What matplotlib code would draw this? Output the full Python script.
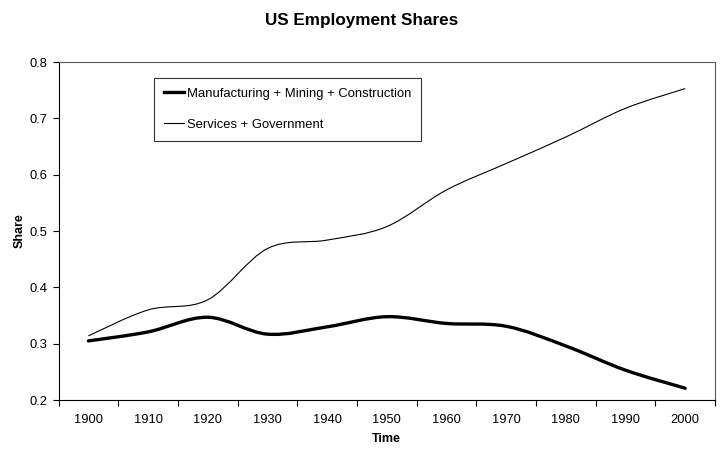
import numpy as np
import matplotlib
matplotlib.use("Agg")
import matplotlib.pyplot as plt
from matplotlib.path import Path
from matplotlib.patches import PathPatch
from matplotlib.lines import Line2D

plt.rcParams['font.family'] = ['Liberation Sans', 'DejaVu Sans']

# data
years = ["1900", "1910", "1920", "1930", "1940", "1950",
         "1960", "1970", "1980", "1990", "2000"]
manufacturing = [0.305, 0.321, 0.347, 0.317, 0.330, 0.348,
                 0.336, 0.331, 0.296, 0.253, 0.221]
services = [0.314, 0.360, 0.378, 0.469, 0.484, 0.508,
            0.573, 0.620, 0.667, 0.718, 0.753]


def smooth_path(xs, ys):
    # Excel-style smoothed line (Catmull-Rom as cubic Bezier)
    pts = np.column_stack([xs, ys]).astype(float)
    ext = np.vstack([pts[0], pts, pts[-1]])
    verts = [pts[0]]
    codes = [Path.MOVETO]
    for i in range(len(pts) - 1):
        p0, p1, p2, p3 = ext[i], ext[i + 1], ext[i + 2], ext[i + 3]
        verts += [p1 + (p2 - p0) / 6, p2 - (p3 - p1) / 6, p2]
        codes += [Path.CURVE4] * 3
    return Path(verts, codes)


fig = plt.figure(figsize=(7.23, 4.5), dpi=100)
ax = fig.add_axes([0.081, 0.111, 0.908, 0.751])

x = np.arange(len(years))
ax.add_patch(PathPatch(smooth_path(x, manufacturing), fill=False,
                       edgecolor="black", linewidth=2.4, capstyle="round"))
ax.add_patch(PathPatch(smooth_path(x, services), fill=False,
                       edgecolor="black", linewidth=0.8))

ax.set_xlim(-0.5, len(years) - 0.5)
ax.set_ylim(0.2, 0.8)
ax.set_yticks([0.2, 0.3, 0.4, 0.5, 0.6, 0.7, 0.8])
ax.set_yticklabels(["0.2", "0.3", "0.4", "0.5", "0.6", "0.7", "0.8"])

# ticks between categories, labels centered on categories
ax.set_xticks(np.arange(len(years) + 1) - 0.5)
ax.set_xticklabels([])
ax.set_xticks(x, minor=True)
ax.set_xticklabels(years, minor=True)
ax.tick_params(axis="x", which="minor", length=0, pad=10, labelsize=9.3)
ax.tick_params(axis="x", which="major", length=4.5, width=0.8)
ax.tick_params(axis="y", length=4, width=0.8, labelsize=9.3, pad=4)

for s in ax.spines.values():
    s.set_linewidth(0.8)
ax.spines["top"].set_color("#555555")
ax.spines["right"].set_color("#555555")

ax.set_xlabel("Time", fontsize=9, fontweight="bold", labelpad=5)
ax.set_ylabel("Share", fontsize=9, fontweight="bold", labelpad=3)
fig.suptitle("US Employment Shares", fontsize=12.3, fontweight="bold", y=0.97)

handles = [Line2D([], [], color="black", linewidth=2.4),
           Line2D([], [], color="black", linewidth=0.8)]
leg = ax.legend(handles, ["Manufacturing + Mining + Construction",
                          "Services + Government"],
                loc="upper left", bbox_to_anchor=(0.145, 0.953),
                fontsize=9.4, frameon=True, fancybox=False,
                edgecolor="black", handlelength=1.6, handletextpad=0.2,
                labelspacing=1.45, borderpad=0.75, borderaxespad=0)
leg.get_frame().set_linewidth(0.8)

fig.savefig("out.png", dpi=100)
